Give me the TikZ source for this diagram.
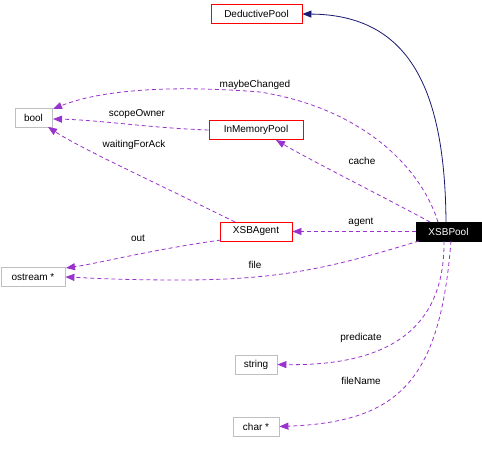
\documentclass[tikz,border=0pt]{standalone}
\usepackage{fontspec}
\setmainfont{Liberation Sans}
\usetikzlibrary{arrows.meta}
\definecolor{edgepurple}{HTML}{9A32CD}
\definecolor{edgenavy}{HTML}{191970}
\definecolor{boxgray}{HTML}{BFBFBF}
\begin{document}
\begin{tikzpicture}[x=1pt,y=-1pt,
  cls/.style={draw=boxgray, fill=white, line width=0.8pt, inner sep=0pt, font=\fontsize{10}{12}\selectfont, minimum height=19pt},
  redcls/.style={cls, draw=red},
  maincls/.style={cls, draw=black, fill=black, text=white},
  use/.style={draw=edgepurple, dashed, dash pattern=on 4pt off 3pt, line width=0.8pt, -{Triangle[length=9pt,width=7pt]}, color=edgepurple},
  inh/.style={draw=edgenavy, line width=0.8pt, -{Triangle[length=9pt,width=7pt]}, color=edgenavy},
  lbl/.style={font=\fontsize{10}{12}\selectfont, inner sep=1pt}
]
\useasboundingbox (0,0) rectangle (482,452);
\node[redcls, minimum width=91pt] (ded) at (256.5,14) {DeductivePool};
\node[cls, minimum width=37pt] (bool) at (33.5,118) {bool};
\node[redcls, minimum width=94pt] (imp) at (256,130) {InMemoryPool};
\node[redcls, minimum width=72pt] (agent) at (256,231.5) {XSBAgent};
\node[maincls, minimum width=65pt] (pool) at (448.5,231.5) {XSBPool};
\node[cls, minimum width=64pt] (ost) at (33,277) {ostream *};
\node[cls, minimum width=42pt] (str) at (256,364.5) {string};
\node[cls, minimum width=46pt] (chr) at (256,426.5) {char *};

\coordinate (pT1) at (446,222);
\draw[inh] (pT1) .. controls (445,90) and (410,15) .. (ded.east);

\coordinate (pT2) at (438,222);
\coordinate (mc) at (260,92);
\coordinate (bNE) at (53,109);
\draw[use] (pT2) .. controls (420,165) and (360,108) .. (mc) .. controls (160,84) and (95,92) .. (bNE);
\node[lbl] (lmc) at (255,85) {maybeChanged};

\coordinate (bE) at (53,119);
\draw[use] (imp.west) .. controls (150,128) and (100,120) .. (bE);
\node[lbl] (lso) at (137,114) {scopeOwner};

\coordinate (aN) at (235,222);
\coordinate (bSE) at (48,127);
\draw[use] (aN) .. controls (150,180) and (80,148) .. (bSE);
\node[lbl] (lwa) at (134,145) {waitingForAck};

\coordinate (pT3) at (430,222);
\coordinate (iS) at (276,140);
\draw[use] (pT3) .. controls (380,195) and (310,160) .. (iS);
\node[lbl] (lca) at (362,161) {cache};

\draw[use] (pool.west) -- (agent.east);
\node[lbl] (lag) at (361,222) {agent};

\coordinate (aSW) at (221,240);
\coordinate (oNE) at (66,268);
\draw[use] (aSW) .. controls (150,250) and (100,263) .. (oNE);
\node[lbl] (lout) at (138,238) {out};

\coordinate (pB1) at (419,241);
\coordinate (fm) at (180,280);
\draw[use] (pB1) .. controls (330,268) and (280,280) .. (fm) .. controls (120,280) and (90,278) .. (ost.east);
\node[lbl] (lfile) at (255,265) {file};

\coordinate (pB2) at (444,241);
\draw[use] (pB2) .. controls (445,335) and (380,366) .. (str.east);
\node[lbl] (lpred) at (361,338) {predicate};

\coordinate (pB3) at (451,241);
\draw[use] (pB3) .. controls (440,380) and (400,422) .. (chr.east);
\node[lbl] (lfn) at (361,381) {fileName};
\end{tikzpicture}
\end{document}
